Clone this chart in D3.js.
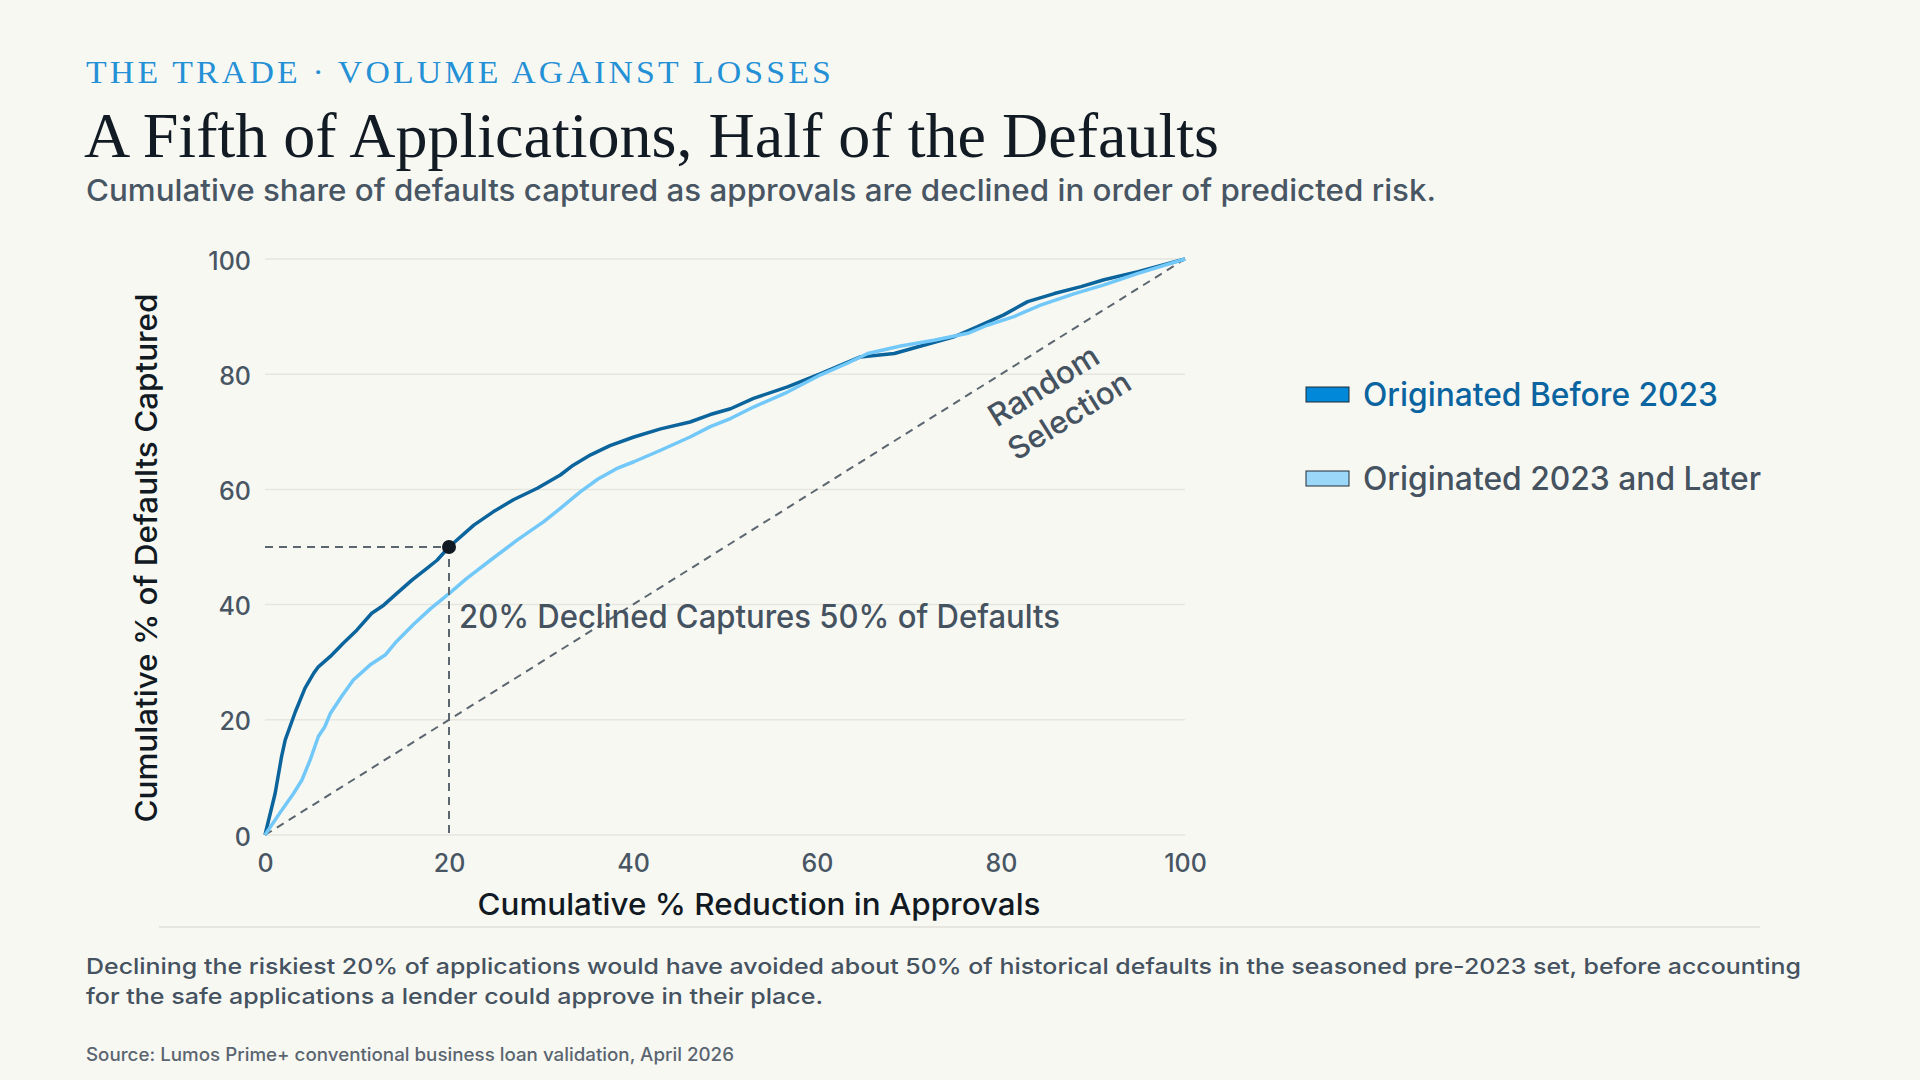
<!DOCTYPE html>
<html>
	<head>
		<script src="https://d3js.org/d3.v7.min.js"></script>
		<style>
			body {
				margin: 0;
				background: #f8f8f3;
			}
			text {
				font-family: Inter, 'Noto Sans', sans-serif;
				font-weight: 500;
			}
			.serif {
				font-family: 'Liberation Serif', 'DejaVu Serif', serif;
				font-weight: 400;
			}
			.grid {
				stroke: #e6e6df;
				stroke-width: 1.5px;
			}
			.guide {
				stroke: #5b6670;
				stroke-width: 2px;
				stroke-dasharray: 8 6;
				fill: none;
			}
		</style>
	</head>

	<body>
		<svg id="chart" width="1920" height="1080"></svg>
		<script>
			// cumulative % reduction in approvals vs cumulative % of defaults captured
			const preX = [0, 1.1, 1.8, 2.2, 3.3, 4.35, 5.3, 5.8, 7.1, 8.5, 10.0, 11.6, 12.9, 14.3, 16.0, 17.6, 18.7, 20, 22.7, 24.8, 27.0, 29.6, 32.1, 33.5, 35.4, 37.5, 40.1, 43.0, 46.2, 48.4, 50.6, 53.1, 56.8, 60.4, 64.7, 68.4, 71.3, 74.9, 77.4, 80.3, 82.9, 85.8, 88.7, 91.2, 94.9, 100];
			const preY = [0, 7.2, 13.6, 16.5, 21.4, 25.5, 28.1, 29.2, 31.0, 33.3, 35.6, 38.5, 39.9, 41.9, 44.3, 46.3, 47.7, 50, 53.8, 56.1, 58.2, 60.2, 62.5, 64.2, 66.0, 67.6, 69.1, 70.5, 71.7, 73.0, 74.0, 75.8, 77.8, 80.1, 83.0, 83.6, 84.9, 86.5, 88.2, 90.3, 92.6, 94.0, 95.2, 96.4, 97.8, 100];
			const postX = [0, 1.6, 3.1, 4.0, 4.9, 5.8, 6.5, 7.1, 8.3, 9.6, 11.4, 13.1, 14.3, 16.1, 18.0, 20, 21.9, 24.5, 27.4, 30.3, 32.1, 34.3, 36.2, 38.2, 40.1, 43.0, 46.2, 48.4, 50.6, 53.1, 56.8, 60.4, 63.3, 65.5, 69.1, 72.7, 76.4, 78.5, 81.4, 84.3, 88.0, 91.2, 94.9, 100];
			const postY = [0, 3.8, 7.2, 9.5, 13.0, 17.1, 18.8, 21.1, 24.0, 26.9, 29.5, 31.3, 33.6, 36.5, 39.3, 41.9, 44.5, 47.7, 51.2, 54.4, 56.7, 59.6, 61.8, 63.6, 64.8, 66.8, 69.1, 70.9, 72.3, 74.3, 76.9, 79.9, 81.9, 83.6, 84.9, 85.9, 87.1, 88.5, 90.0, 92.0, 94.0, 95.5, 97.5, 100];
			const xTicks = [0, 20, 40, 60, 80, 100];
			const yTicks = [0, 20, 40, 60, 80, 100];
			const seriesNames = ['Originated Before 2023', 'Originated 2023 and Later'];
			const marker = [20, 50];

			const svg = d3.select('svg#chart');
			svg.append('rect').attr('width', 1920).attr('height', 1080).attr('fill', '#f8f8f3');

			// squeeze/stretch a text to the width it has in the picture
			function fit(sel, w) {
				sel.attr('textLength', w).attr('lengthAdjust', 'spacingAndGlyphs');
				return sel;
			}

			// header
			fit(svg.append('text').attr('class', 'serif').attr('x', 86).attr('y', 83)
				.attr('font-size', 32).attr('letter-spacing', 3).attr('fill', '#2490d6')
				.text('THE TRADE · VOLUME AGAINST LOSSES'), 748);
			fit(svg.append('text').attr('class', 'serif').attr('x', 84).attr('y', 157)
				.attr('font-size', 64).attr('fill', '#121b24')
				.text('A Fifth of Applications, Half of the Defaults'), 1135);
			fit(svg.append('text').attr('x', 86).attr('y', 201)
				.attr('font-size', 30).attr('fill', '#485664')
				.text('Cumulative share of defaults captured as approvals are declined in order of predicted risk.'), 1350);

			const x = d3.scaleLinear().domain([0, 100]).range([265, 1185]);
			const y = d3.scaleLinear().domain([0, 100]).range([835, 259]);

			const plot = svg.append('g');

			plot.selectAll('line.grid').data(yTicks).join('line')
				.attr('class', 'grid')
				.attr('x1', x(0)).attr('x2', x(100))
				.attr('y1', (d) => y(d)).attr('y2', (d) => y(d));

			const yAxis = plot.append('g').attr('transform', `translate(${x(0) - 14},0)`)
				.call(d3.axisLeft(y).tickValues(yTicks).tickSize(0).tickPadding(0));
			yAxis.select('.domain').remove();
			yAxis.selectAll('text').attr('font-size', 25).attr('fill', '#485664')
				.attr('font-family', 'Inter, sans-serif').attr('font-weight', 500).attr('dy', '0.4em');

			const xAxis = plot.append('g').attr('transform', `translate(0,${y(0) + 19})`)
				.call(d3.axisBottom(x).tickValues(xTicks).tickSize(0).tickPadding(0));
			xAxis.select('.domain').remove();
			xAxis.selectAll('text').attr('font-size', 25).attr('fill', '#485664')
				.attr('font-family', 'Inter, sans-serif').attr('font-weight', 500).attr('dy', '0.72em');

			// axis titles
			fit(svg.append('text').attr('x', 759).attr('y', 915).attr('text-anchor', 'middle')
				.attr('font-size', 30).attr('fill', '#111a22')
				.text('Cumulative % Reduction in Approvals'), 563);
			fit(svg.append('text').attr('transform', 'translate(157,558) rotate(-90)').attr('text-anchor', 'middle')
				.attr('font-size', 30).attr('fill', '#111a22')
				.text('Cumulative % of Defaults Captured'), 529);

			// random selection diagonal
			plot.append('line').attr('class', 'guide')
				.attr('x1', x(0)).attr('y1', y(0)).attr('x2', x(100)).attr('y2', y(100));
			const ang = (Math.atan2(y(100) - y(0), x(100) - x(0)) * 180) / Math.PI;
			const rs = plot.append('g').attr('transform', `translate(1056,400) rotate(${ang})`);
			fit(rs.append('text').attr('x', -3).attr('y', -8).attr('text-anchor', 'middle')
				.attr('font-size', 31).attr('fill', '#45525f').text('Random'), 124);
			fit(rs.append('text').attr('x', 3).attr('y', 31).attr('text-anchor', 'middle')
				.attr('font-size', 31).attr('fill', '#45525f').text('Selection'), 138);

			// curves
			const line = d3.line().x((d) => x(d[0])).y((d) => y(d[1]));
			const pre = preX.map((v, i) => [v, preY[i]]);
			const post = postX.map((v, i) => [v, postY[i]]);

			plot.append('path').datum(pre).attr('d', line)
				.attr('fill', 'none').attr('stroke', '#0b649c').attr('stroke-width', 3.5).attr('stroke-linejoin', 'round');
			plot.append('path').datum(post).attr('d', line)
				.attr('fill', 'none').attr('stroke', '#72c8f8').attr('stroke-width', 3.5).attr('stroke-linejoin', 'round');

			// 20% / 50% marker
			plot.append('path').attr('class', 'guide')
				.attr('d', `M${x(0)},${y(marker[1])}H${x(marker[0])}V${y(0)}`);
			plot.append('circle').attr('cx', x(marker[0])).attr('cy', y(marker[1])).attr('r', 7).attr('fill', '#111a22');
			fit(plot.append('text').attr('x', 459).attr('y', 628)
				.attr('font-size', 32).attr('fill', '#45525f')
				.text('20% Declined Captures 50% of Defaults'), 601);

			// legend
			const legColors = ['#0288d8', '#9bd7f8'];
			const legText = ['#0a64a0', '#45525f'];
			const legWidths = [355, 398];
			seriesNames.forEach((name, i) => {
				const gy = 394 + i * 84;
				svg.append('rect').attr('x', 1306).attr('y', gy - 7).attr('width', 43).attr('height', 15)
					.attr('fill', legColors[i]).attr('stroke', '#1f2a33').attr('stroke-width', 1);
				fit(svg.append('text').attr('x', 1363).attr('y', gy + 12)
					.attr('font-size', 32).attr('fill', legText[i]).text(name), legWidths[i]);
			});

			// rule and notes
			svg.append('line').attr('x1', 159).attr('x2', 1760).attr('y1', 927).attr('y2', 927)
				.attr('stroke', '#e6e6df').attr('stroke-width', 2);
			fit(svg.append('text').attr('x', 86).attr('y', 974).attr('font-size', 22).attr('fill', '#45525f')
				.text('Declining the riskiest 20% of applications would have avoided about 50% of historical defaults in the seasoned pre-2023 set, before accounting'), 1715);
			fit(svg.append('text').attr('x', 86).attr('y', 1004).attr('font-size', 22).attr('fill', '#45525f')
				.text('for the safe applications a lender could approve in their place.'), 737);
			fit(svg.append('text').attr('x', 86).attr('y', 1061).attr('font-size', 18).attr('fill', '#5a6570')
				.text('Source: Lumos Prime+ conventional business loan validation, April 2026'), 648);
		</script>
	</body>
</html>
